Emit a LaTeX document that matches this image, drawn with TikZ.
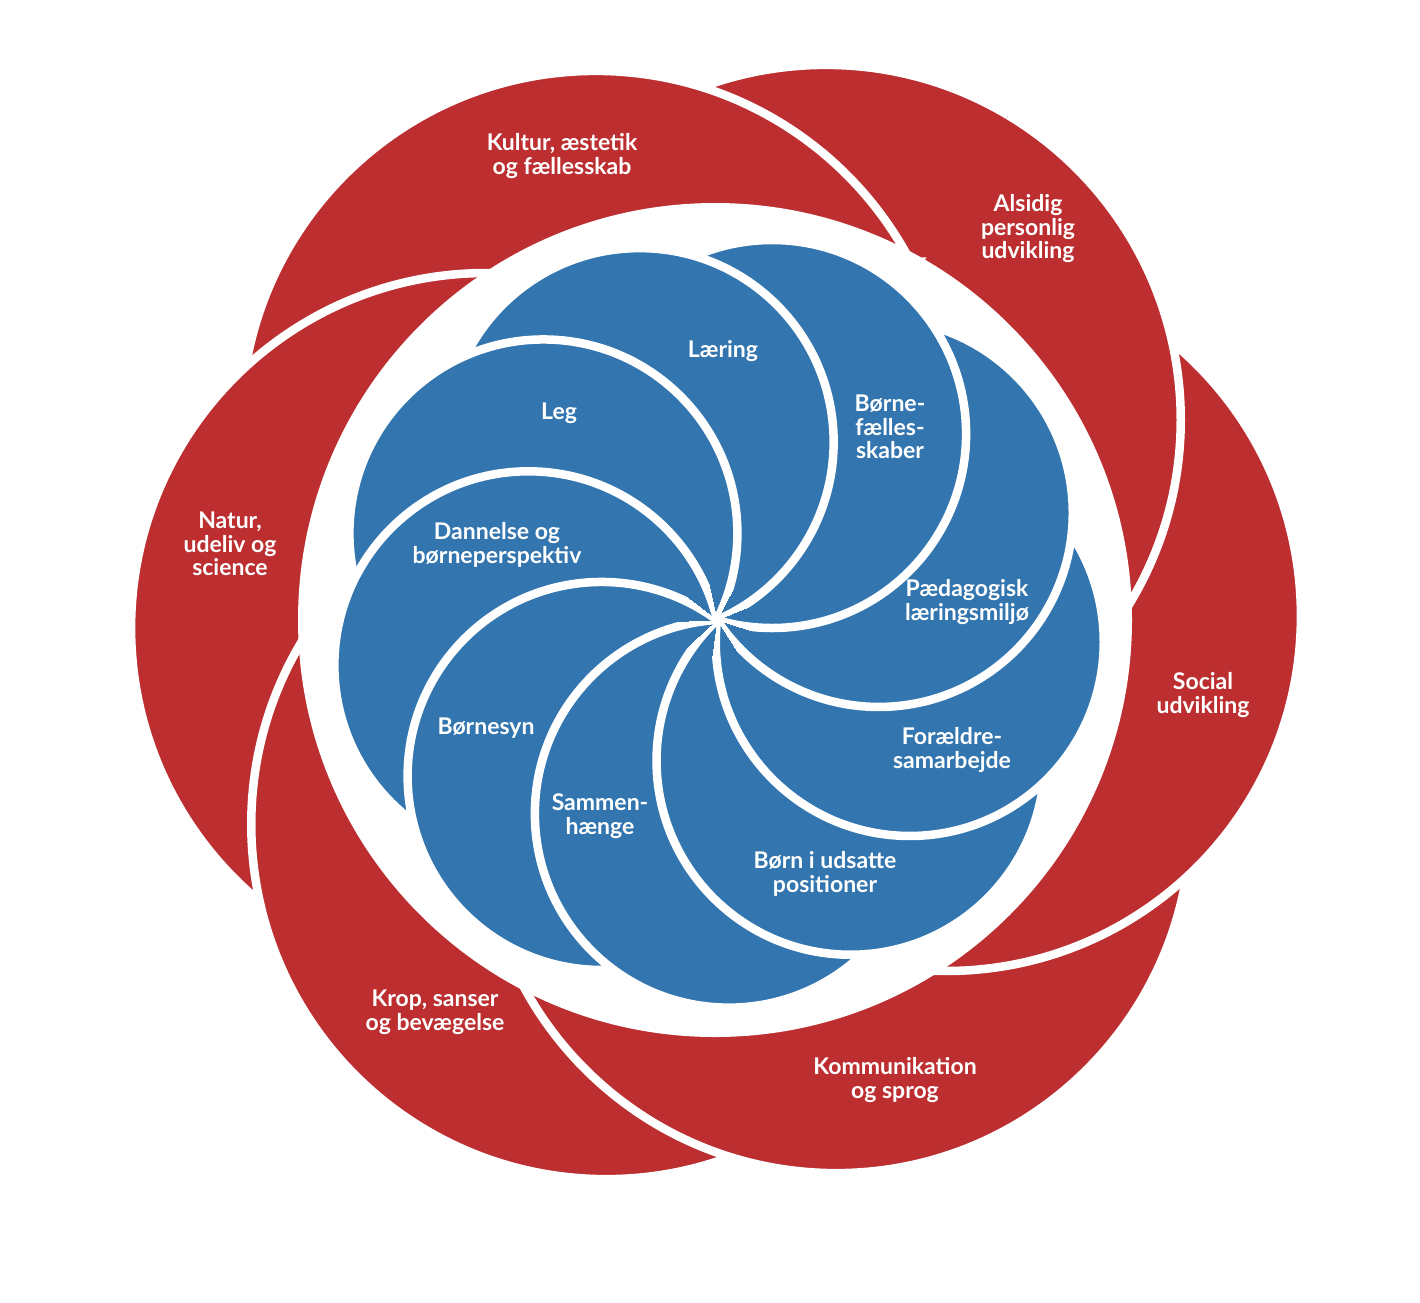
\documentclass[tikz,border=0pt]{standalone}
\usepackage{fontspec}
\setmainfont{Lato}
\usetikzlibrary{calc}
\definecolor{kompasred}{RGB}{188,46,48}
\definecolor{kompasblue}{RGB}{51,117,174}
\tikzset{redpetal/.style={fill=kompasred,draw=white,line width=8.5pt},
 bluepetal/.style={fill=kompasblue,draw=white,line width=8.5pt},
 lbl/.style={text=white,font=\bfseries\fontsize{23}{23.5}\selectfont,align=center,inner sep=0pt},
 }

\begin{document}
\begin{tikzpicture}[x=1pt,y=-1pt]
        \useasboundingbox (0,0) rectangle (1420,1302);
        \coordinate (Or) at (716,622);
        \coordinate (Ow) at (715,620);
        \coordinate (Ob) at (717,620);
        % outer ring, each area lies over its clockwise neighbour
        \foreach \a in {61.5,121.5,181.5,241.5,301.5,1.5} {
            \draw[redpetal] ($(Or)+(\a:230pt)$) circle (355pt);
        }
        \begin{scope}
            \clip (Or) -- ($(Or)+(1:760pt)$) -- ($(Or)+(60:760pt)$) -- cycle;
            \draw[redpetal] ($(Or)+(61.5:230pt)$) circle (355pt);
        \end{scope}
        \fill[white] (Ow) circle (417pt);
        % inner spiral, wedge by wedge round the centre
        \foreach \k in {0,...,17} {
            \pgfmathsetmacro\m{13.5+20*\k}
            \ifodd\k \def\offs{-80,-40,0,40,80}\else\def\offs{-60,-20,20,60}\fi
            \begin{scope}
                \clip (Ob) -- ($(Ob)+({\m-11}:440pt)$) -- ($(Ob)+({\m+11}:440pt)$) -- cycle;
                \begin{scope}[transparency group]
                    \foreach \d in \offs {
                        \draw[bluepetal] ($(Ob)+({\m+(\d)}:194pt)$) circle (194pt);
                    }
                \end{scope}
            \end{scope}
        }
        \node[lbl] (kultur) at (562,156) {Kultur, æstetik\\og fællesskab};
        \node[lbl] (alsidig) at (1028,229) {Alsidig\\personlig\\udvikling};
        \node[lbl] (social) at (1203,695) {Social\\udvikling};
        \node[lbl] (komm) at (895,1080) {Kommunikation\\og sprog};
        \node[lbl] (krop) at (435,1012) {Krop, sanser\\og bevægelse};
        \node[lbl] (natur) at (230,544) {Natur,\\udeliv og\\science};
        \node[lbl] (laering) at (723,351) {Læring};
        \node[lbl] (leg) at (559,413) {Leg};
        \node[lbl] (dannelse) at (497,545) {Dannelse og\\børneperspektiv};
        \node[lbl] (boernesyn) at (486,728) {Børnesyn};
        \node[lbl] (sammen) at (600,816) {Sammen-\\hænge};
        \node[lbl] (udsatte) at (825,874) {Børn i udsatte\\positioner};
        \node[lbl] (foraeldre) at (952,750) {Forældre-\\samarbejde};
        \node[lbl] (paed) at (967,602) {Pædagogisk\\læringsmiljø};
        \node[lbl] (faelles) at (890,427) {Børne-\\fælles-\\skaber};
    \end{tikzpicture}
\end{document}
